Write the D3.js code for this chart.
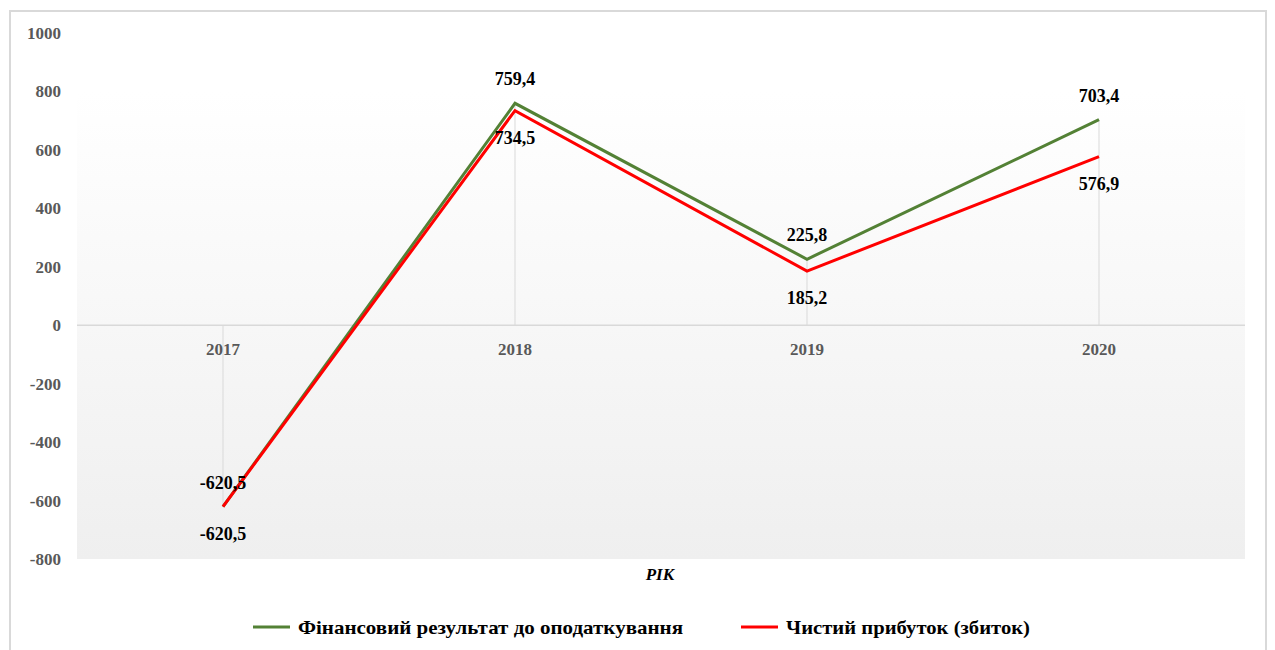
<!DOCTYPE html>
<html>
<head>
<meta charset="utf-8">
<script src="https://cdn.jsdelivr.net/npm/d3@7"></script>
<style>
  body { margin: 0; background: #fff; }
  svg { display: block; font-family: "Liberation Serif", "Times New Roman", serif; }
</style>
</head>
<body>
<div id="chart"></div>
<script>
const years = ['2017', '2018', '2019', '2020'];
const beforeTax = [-620.5, 759.4, 225.8, 703.4];
const netProfit = [-620.5, 734.5, 185.2, 576.9];
const yTicks = [1000, 800, 600, 400, 200, 0, -200, -400, -600, -800];
const seriesNames = ['Фінансовий результат до оподаткування', 'Чистий прибуток (збиток)'];

const svgWidth = 1275, svgHeight = 650;
const plot = { left: 77, right: 1245, top: 33, bottom: 559 };

const svg = d3.select('#chart').append('svg')
  .attr('width', svgWidth).attr('height', svgHeight);

// outer frame
svg.append('rect')
  .attr('x', 10).attr('y', 11)
  .attr('width', 1256).attr('height', 650)
  .attr('fill', '#fff').attr('stroke', '#d9d9d9').attr('stroke-width', 2);

const x = d3.scaleBand().domain(years).range([plot.left, plot.right]);
const y = d3.scaleLinear().domain([-800, 1000]).range([plot.bottom, plot.top]);
const cx = d => x(d) + x.bandwidth() / 2;

const defs = svg.append('defs');
const grad = defs.append('linearGradient').attr('id', 'bg')
  .attr('x1', 0).attr('y1', 0).attr('x2', 0).attr('y2', 1);
grad.append('stop').attr('offset', '0%').attr('stop-color', '#ffffff');
grad.append('stop').attr('offset', '100%').attr('stop-color', '#efefef');

svg.append('rect')
  .attr('x', plot.left).attr('y', y(800))
  .attr('width', plot.right - plot.left).attr('height', y(-800) - y(800))
  .attr('fill', 'url(#bg)');

// zero line
svg.append('line')
  .attr('x1', plot.left).attr('x2', plot.right)
  .attr('y1', y(0)).attr('y2', y(0))
  .attr('stroke', '#d9d9d9').attr('stroke-width', 1.5);

// drop lines
years.forEach((yr, i) => {
  const top = Math.max(beforeTax[i], netProfit[i]);
  const bot = Math.min(beforeTax[i], netProfit[i]);
  const v = top > 0 ? top : bot;
  svg.append('line')
    .attr('x1', cx(yr)).attr('x2', cx(yr))
    .attr('y1', y(0)).attr('y2', y(v))
    .attr('stroke', '#d9d9d9').attr('stroke-width', 1);
});

// y axis labels
const yAxis = d3.axisLeft(y).tickValues(yTicks).tickSize(0).tickPadding(0)
  .tickFormat(d => String(d));
const yg = svg.append('g').attr('transform', `translate(61,0)`).call(yAxis);
yg.attr('font-family', null).attr('font-size', null);
yg.select('.domain').remove();
yg.selectAll('text')
  .attr('fill', '#595959').attr('font-size', 17).attr('font-weight', 'bold')
  .attr('font-family', '"Liberation Serif", serif');

// category labels
svg.selectAll('.cat').data(years).enter().append('text')
  .attr('x', d => cx(d)).attr('y', y(0) + 30)
  .attr('text-anchor', 'middle')
  .attr('fill', '#595959').attr('font-size', 17).attr('font-weight', 'bold')
  .text(d => d);

const line = d3.line().x((d, i) => cx(years[i])).y(d => y(d));

svg.append('path').datum(beforeTax)
  .attr('fill', 'none').attr('stroke', '#538135').attr('stroke-width', 3)
  .attr('stroke-linejoin', 'miter').attr('d', line);
svg.append('path').datum(netProfit)
  .attr('fill', 'none').attr('stroke', '#ff0000').attr('stroke-width', 3)
  .attr('stroke-linejoin', 'miter').attr('d', line);

const fmt = v => d3.format('.1f')(v).replace('.', ',').replace('−', '-');

// data labels: before tax above, net profit below
svg.selectAll('.lblA').data(beforeTax).enter().append('text')
  .attr('x', (d, i) => cx(years[i])).attr('y', d => y(d) - 18)
  .attr('text-anchor', 'middle').attr('font-size', 18).attr('font-weight', 'bold')
  .attr('fill', '#000').text(d => fmt(d));
svg.selectAll('.lblB').data(netProfit).enter().append('text')
  .attr('x', (d, i) => cx(years[i])).attr('y', d => y(d) + 33)
  .attr('text-anchor', 'middle').attr('font-size', 18).attr('font-weight', 'bold')
  .attr('fill', '#000').text(d => fmt(d));

// axis title
svg.append('text')
  .attr('x', 660).attr('y', 580)
  .attr('text-anchor', 'middle').attr('font-size', 17)
  .attr('font-weight', 'bold').attr('font-style', 'italic')
  .attr('fill', '#000').text('РІК');

// legend
const legend = [
  { name: seriesNames[0], color: '#538135', x: 253, w: 385 },
  { name: seriesNames[1], color: '#ff0000', x: 741, w: 244 }
];
legend.forEach(l => {
  svg.append('line')
    .attr('x1', l.x).attr('x2', l.x + 37)
    .attr('y1', 627).attr('y2', 627)
    .attr('stroke', l.color).attr('stroke-width', 3);
  svg.append('text')
    .attr('x', l.x + 45).attr('y', 634)
    .attr('font-size', 19).attr('font-weight', 'bold')
    .attr('textLength', l.w).attr('lengthAdjust', 'spacingAndGlyphs')
    .attr('fill', '#000').text(l.name);
});
</script>
</body>
</html>
